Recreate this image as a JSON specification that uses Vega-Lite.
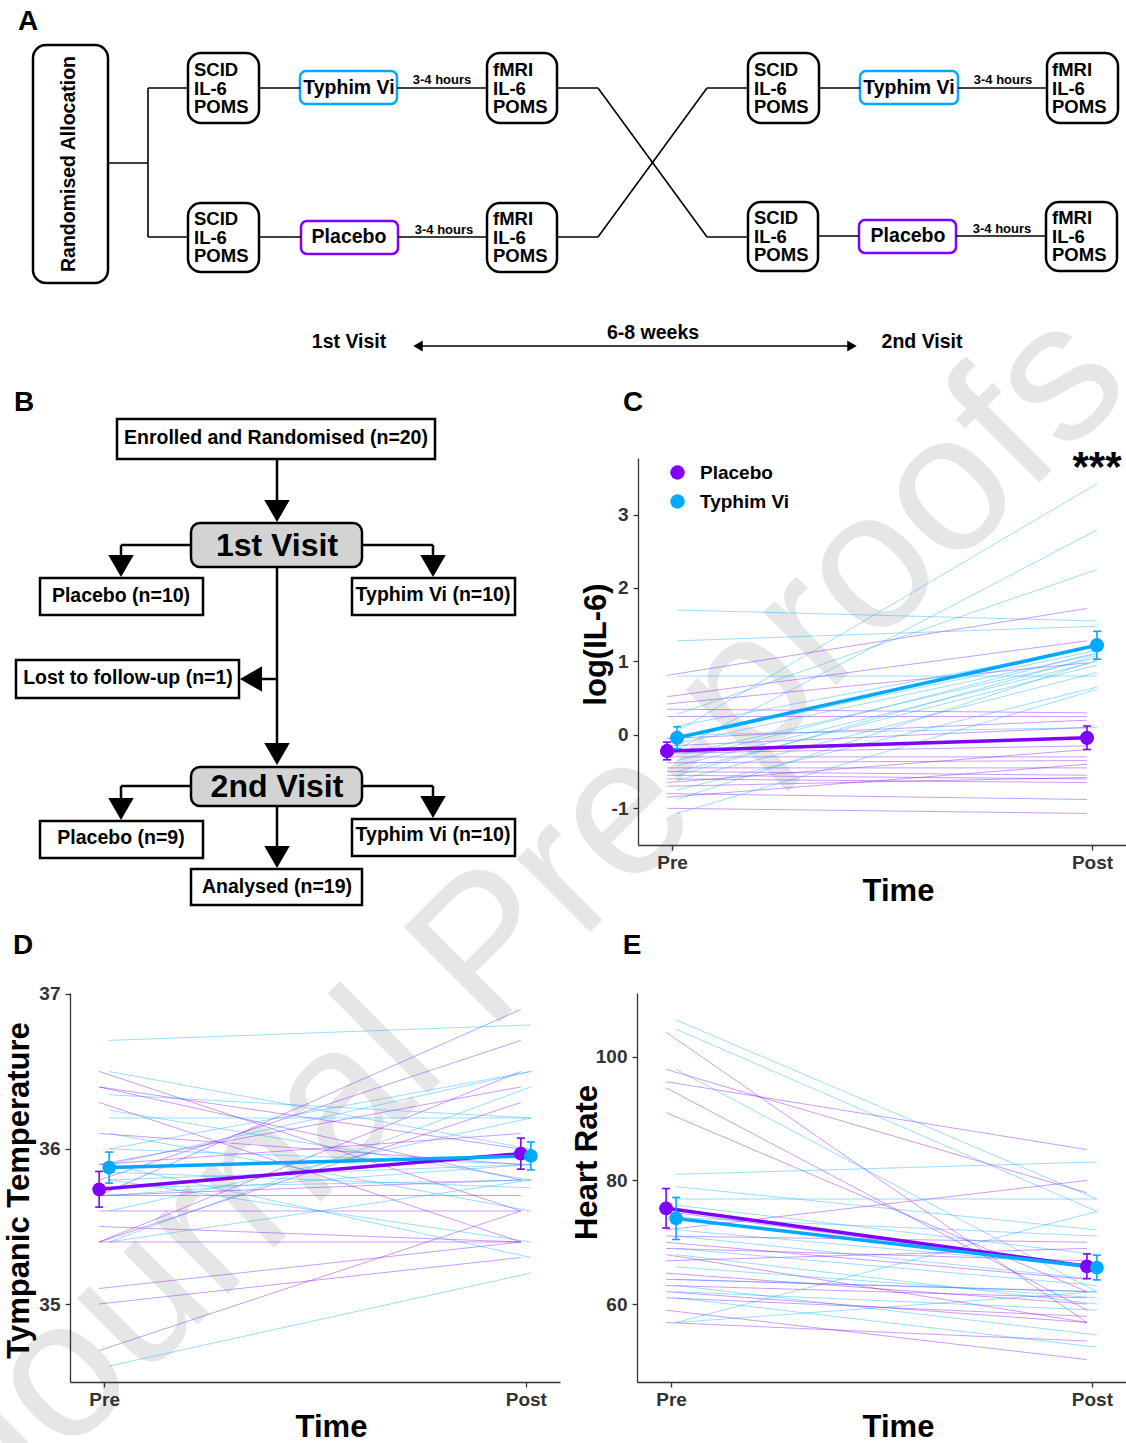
{
  "$schema": "https://vega.github.io/schema/vega-lite/v6.json",
  "width": 1126,
  "height": 1443,
  "padding": 0,
  "background": "white",
  "autosize": {"type": "none"},
  "config": {
    "font": "Liberation Sans",
    "view": {"stroke": null},
    "axis": {"zindex": 1, "domainColor": "#333333", "domainWidth": 1.3, "tickColor": "#333333", "tickWidth": 1.3, "tickSize": 5, "labelFont": "Liberation Sans", "labelFontWeight": "bold", "labelFontSize": 19, "labelColor": "#333333", "titleFont": "Liberation Sans", "titleFontWeight": "bold", "titleFontSize": 31, "titleColor": "black", "grid": false},
    "axisX": {"labelPadding": 3, "labelAngle": 0},
    "axisY": {"labelPadding": 5}
  },
  "datasets": {
    "abox": [
      {"x": 33, "x2": 108, "y": 45, "y2": 283},
      {"x": 188, "x2": 259, "y": 53, "y2": 123},
      {"x": 487, "x2": 557, "y": 53, "y2": 123},
      {"x": 188, "x2": 259, "y": 203, "y2": 272},
      {"x": 487, "x2": 557, "y": 203, "y2": 272},
      {"x": 748, "x2": 819, "y": 53, "y2": 123},
      {"x": 1047, "x2": 1118, "y": 53, "y2": 123},
      {"x": 748, "x2": 818, "y": 202, "y2": 271},
      {"x": 1046, "x2": 1117, "y": 202, "y2": 271}
    ],
    "tbox": [
      {"x": 300, "x2": 397, "y": 71, "y2": 104, "arm": "Typhim Vi"},
      {"x": 301, "x2": 398, "y": 221, "y2": 254, "arm": "Placebo"},
      {"x": 860, "x2": 958, "y": 71, "y2": 104, "arm": "Typhim Vi"},
      {"x": 859, "x2": 956, "y": 220, "y2": 253, "arm": "Placebo"}
    ],
    "sbox": [
      {"x": 117, "x2": 435, "y": 419, "y2": 459},
      {"x": 40, "x2": 203, "y": 578, "y2": 615},
      {"x": 352, "x2": 515, "y": 578, "y2": 615},
      {"x": 16, "x2": 239, "y": 660, "y2": 698},
      {"x": 40, "x2": 203, "y": 821, "y2": 858},
      {"x": 352, "x2": 515, "y": 819, "y2": 856},
      {"x": 191, "x2": 362, "y": 869, "y2": 905}
    ],
    "vbox": [
      {"x": 191, "x2": 362, "y": 523, "y2": 567},
      {"x": 191, "x2": 362, "y": 767, "y2": 806}
    ],
    "thin": [
      {"x": 108, "y": 163, "x2": 148, "y2": 163},
      {"x": 148, "y": 88, "x2": 148, "y2": 237},
      {"x": 148, "y": 88, "x2": 188, "y2": 88},
      {"x": 148, "y": 237, "x2": 188, "y2": 237},
      {"x": 259, "y": 88, "x2": 300, "y2": 88},
      {"x": 397, "y": 88, "x2": 487, "y2": 88},
      {"x": 259, "y": 237, "x2": 301, "y2": 237},
      {"x": 398, "y": 237, "x2": 487, "y2": 237},
      {"x": 557, "y": 88, "x2": 598, "y2": 88},
      {"x": 598, "y": 88, "x2": 707, "y2": 237},
      {"x": 707, "y": 237, "x2": 748, "y2": 237},
      {"x": 557, "y": 237, "x2": 598, "y2": 237},
      {"x": 598, "y": 237, "x2": 707, "y2": 88},
      {"x": 707, "y": 88, "x2": 748, "y2": 88},
      {"x": 819, "y": 88, "x2": 860, "y2": 88},
      {"x": 958, "y": 88, "x2": 1047, "y2": 88},
      {"x": 818, "y": 236, "x2": 859, "y2": 236},
      {"x": 956, "y": 236, "x2": 1046, "y2": 236},
      {"x": 418, "y": 346, "x2": 852, "y2": 346}
    ],
    "thick": [
      {"x": 277, "y": 459, "x2": 277, "y2": 505},
      {"x": 277, "y": 567, "x2": 277, "y2": 748},
      {"x": 191, "y": 545, "x2": 121, "y2": 545},
      {"x": 121, "y": 545, "x2": 121, "y2": 560},
      {"x": 362, "y": 545, "x2": 433, "y2": 545},
      {"x": 433, "y": 545, "x2": 433, "y2": 560},
      {"x": 277, "y": 679, "x2": 255, "y2": 679},
      {"x": 191, "y": 786, "x2": 121, "y2": 786},
      {"x": 121, "y": 786, "x2": 121, "y2": 803},
      {"x": 362, "y": 786, "x2": 433, "y2": 786},
      {"x": 433, "y": 786, "x2": 433, "y2": 801},
      {"x": 277, "y": 806, "x2": 277, "y2": 850}
    ],
    "bigarrows": [
      {"x": 277, "y": 511, "dir": "down"},
      {"x": 277, "y": 754, "dir": "down"},
      {"x": 121, "y": 566, "dir": "down"},
      {"x": 433, "y": 566, "dir": "down"},
      {"x": 251, "y": 679, "dir": "left"},
      {"x": 121, "y": 809, "dir": "down"},
      {"x": 433, "y": 807, "dir": "down"},
      {"x": 277, "y": 857, "dir": "down"}
    ],
    "smallarrows": [
      {"x": 418, "y": 346, "dir": "left"},
      {"x": 852, "y": 346, "dir": "right"}
    ],
    "letters": [
      {"t": "A", "x": 28, "y": 22},
      {"t": "B", "x": 24, "y": 403},
      {"t": "C", "x": 633, "y": 403},
      {"t": "D", "x": 23, "y": 946},
      {"t": "E", "x": 632, "y": 946}
    ],
    "nodelines": [
      {"t": ["SCID", "IL-6", "POMS"], "x": 194, "y": 70},
      {"t": ["fMRI", "IL-6", "POMS"], "x": 493, "y": 70},
      {"t": ["SCID", "IL-6", "POMS"], "x": 194, "y": 219},
      {"t": ["fMRI", "IL-6", "POMS"], "x": 493, "y": 219},
      {"t": ["SCID", "IL-6", "POMS"], "x": 754, "y": 70},
      {"t": ["fMRI", "IL-6", "POMS"], "x": 1052, "y": 70},
      {"t": ["SCID", "IL-6", "POMS"], "x": 754, "y": 218},
      {"t": ["fMRI", "IL-6", "POMS"], "x": 1052, "y": 218}
    ],
    "centertexts": [
      {"t": "Typhim Vi", "x": 349, "y": 88},
      {"t": "Placebo", "x": 349, "y": 237},
      {"t": "Typhim Vi", "x": 909, "y": 88},
      {"t": "Placebo", "x": 908, "y": 236},
      {"t": "1st Visit", "x": 349, "y": 342},
      {"t": "6-8 weeks", "x": 653, "y": 333},
      {"t": "2nd Visit", "x": 922, "y": 342},
      {"t": "Enrolled and Randomised (n=20)", "x": 276, "y": 438},
      {"t": "Placebo (n=10)", "x": 121, "y": 596},
      {"t": "Typhim Vi (n=10)", "x": 433, "y": 595},
      {"t": "Lost to follow-up (n=1)", "x": 128, "y": 678},
      {"t": "Placebo (n=9)", "x": 121, "y": 838},
      {"t": "Typhim Vi (n=10)", "x": 433, "y": 835},
      {"t": "Analysed (n=19)", "x": 277, "y": 887}
    ],
    "smalltexts": [
      {"t": "3-4 hours", "x": 442, "y": 80},
      {"t": "3-4 hours", "x": 444, "y": 230},
      {"t": "3-4 hours", "x": 1003, "y": 80},
      {"t": "3-4 hours", "x": 1002, "y": 229}
    ],
    "visittexts": [
      {"t": "1st Visit", "x": 277, "y": 546},
      {"t": "2nd Visit", "x": 277, "y": 787}
    ],
    "il6": [
      {"id": 1, "group": "Placebo", "Pre": 0.81, "Post": 1.72},
      {"id": 2, "group": "Placebo", "Pre": 0.52, "Post": 1.28},
      {"id": 3, "group": "Placebo", "Pre": 0.42, "Post": 0.98},
      {"id": 4, "group": "Placebo", "Pre": 0.35, "Post": 0.30},
      {"id": 5, "group": "Placebo", "Pre": 0.25, "Post": 0.25},
      {"id": 6, "group": "Placebo", "Pre": -0.05, "Post": 0.20},
      {"id": 7, "group": "Placebo", "Pre": -0.15, "Post": 0.10},
      {"id": 8, "group": "Placebo", "Pre": -0.25, "Post": -0.15},
      {"id": 9, "group": "Placebo", "Pre": -0.30, "Post": -0.30},
      {"id": 10, "group": "Placebo", "Pre": -0.38, "Post": -0.35},
      {"id": 11, "group": "Placebo", "Pre": -0.45, "Post": -0.45},
      {"id": 12, "group": "Placebo", "Pre": -0.50, "Post": -0.55},
      {"id": 13, "group": "Placebo", "Pre": -0.55, "Post": -0.60},
      {"id": 14, "group": "Placebo", "Pre": -0.60, "Post": -0.65},
      {"id": 15, "group": "Placebo", "Pre": -0.65, "Post": -0.20},
      {"id": 16, "group": "Placebo", "Pre": -0.70, "Post": -0.58},
      {"id": 17, "group": "Placebo", "Pre": -0.80, "Post": -0.88},
      {"id": 18, "group": "Placebo", "Pre": -0.85, "Post": -0.40},
      {"id": 19, "group": "Placebo", "Pre": -1.00, "Post": -1.07},
      {"id": 1, "group": "Typhim Vi", "Pre": 1.70, "Post": 1.55},
      {"id": 2, "group": "Typhim Vi", "Pre": 1.28, "Post": 1.48},
      {"id": 3, "group": "Typhim Vi", "Pre": 0.28, "Post": 2.25},
      {"id": 4, "group": "Typhim Vi", "Pre": 0.05, "Post": 3.42},
      {"id": 5, "group": "Typhim Vi", "Pre": -0.20, "Post": 2.79},
      {"id": 6, "group": "Typhim Vi", "Pre": 0.80, "Post": 0.80},
      {"id": 7, "group": "Typhim Vi", "Pre": 0.12, "Post": 1.20},
      {"id": 8, "group": "Typhim Vi", "Pre": -0.05, "Post": 1.15},
      {"id": 9, "group": "Typhim Vi", "Pre": -0.12, "Post": 1.10},
      {"id": 10, "group": "Typhim Vi", "Pre": -0.28, "Post": 1.05},
      {"id": 11, "group": "Typhim Vi", "Pre": -0.35, "Post": 1.12},
      {"id": 12, "group": "Typhim Vi", "Pre": -0.42, "Post": 1.00},
      {"id": 13, "group": "Typhim Vi", "Pre": -0.50, "Post": 0.95},
      {"id": 14, "group": "Typhim Vi", "Pre": -0.55, "Post": 1.08},
      {"id": 15, "group": "Typhim Vi", "Pre": -0.62, "Post": 0.85},
      {"id": 16, "group": "Typhim Vi", "Pre": -0.75, "Post": 0.65},
      {"id": 17, "group": "Typhim Vi", "Pre": -0.88, "Post": 1.02},
      {"id": 18, "group": "Typhim Vi", "Pre": -1.07, "Post": 0.62},
      {"id": 19, "group": "Typhim Vi", "Pre": 0.00, "Post": 0.10}
    ],
    "il6_sum": [
      {"group": "Placebo", "time": "Pre", "mean": -0.22, "lo": -0.34, "hi": -0.10},
      {"group": "Placebo", "time": "Post", "mean": -0.04, "lo": -0.20, "hi": 0.12},
      {"group": "Typhim Vi", "time": "Pre", "mean": -0.04, "lo": -0.19, "hi": 0.11},
      {"group": "Typhim Vi", "time": "Post", "mean": 1.22, "lo": 1.03, "hi": 1.41}
    ],
    "temp": [
      {"id": 1, "group": "Placebo", "Pre": 36.50, "Post": 35.60},
      {"id": 2, "group": "Placebo", "Pre": 36.40, "Post": 35.80},
      {"id": 3, "group": "Placebo", "Pre": 35.70, "Post": 36.90},
      {"id": 4, "group": "Placebo", "Pre": 35.10, "Post": 35.40},
      {"id": 5, "group": "Placebo", "Pre": 35.00, "Post": 35.30},
      {"id": 6, "group": "Placebo", "Pre": 34.70, "Post": 35.60},
      {"id": 7, "group": "Placebo", "Pre": 35.40, "Post": 36.50},
      {"id": 8, "group": "Placebo", "Pre": 35.50, "Post": 35.40},
      {"id": 9, "group": "Placebo", "Pre": 35.70, "Post": 35.70},
      {"id": 10, "group": "Placebo", "Pre": 35.90, "Post": 36.10},
      {"id": 11, "group": "Placebo", "Pre": 35.40, "Post": 36.30},
      {"id": 12, "group": "Placebo", "Pre": 35.70, "Post": 35.80},
      {"id": 13, "group": "Placebo", "Pre": 36.30, "Post": 35.40},
      {"id": 14, "group": "Placebo", "Pre": 36.40, "Post": 36.00},
      {"id": 15, "group": "Placebo", "Pre": 35.80, "Post": 36.70},
      {"id": 16, "group": "Placebo", "Pre": 35.60, "Post": 35.60},
      {"id": 17, "group": "Placebo", "Pre": 35.90, "Post": 36.40},
      {"id": 18, "group": "Placebo", "Pre": 36.10, "Post": 35.90},
      {"id": 19, "group": "Placebo", "Pre": 35.40, "Post": 35.40},
      {"id": 1, "group": "Typhim Vi", "Pre": 36.70, "Post": 36.80},
      {"id": 2, "group": "Typhim Vi", "Pre": 36.50, "Post": 36.00},
      {"id": 3, "group": "Typhim Vi", "Pre": 36.35, "Post": 36.20},
      {"id": 4, "group": "Typhim Vi", "Pre": 36.25, "Post": 35.80},
      {"id": 5, "group": "Typhim Vi", "Pre": 36.00, "Post": 35.90},
      {"id": 6, "group": "Typhim Vi", "Pre": 35.90, "Post": 36.50},
      {"id": 7, "group": "Typhim Vi", "Pre": 35.80, "Post": 35.40},
      {"id": 8, "group": "Typhim Vi", "Pre": 35.75, "Post": 35.80},
      {"id": 9, "group": "Typhim Vi", "Pre": 35.60, "Post": 36.20},
      {"id": 10, "group": "Typhim Vi", "Pre": 35.40, "Post": 36.40},
      {"id": 11, "group": "Typhim Vi", "Pre": 35.40, "Post": 35.80},
      {"id": 12, "group": "Typhim Vi", "Pre": 35.70, "Post": 35.90},
      {"id": 13, "group": "Typhim Vi", "Pre": 34.60, "Post": 35.20},
      {"id": 14, "group": "Typhim Vi", "Pre": 35.80, "Post": 35.90},
      {"id": 15, "group": "Typhim Vi", "Pre": 36.10, "Post": 35.60},
      {"id": 16, "group": "Typhim Vi", "Pre": 36.20, "Post": 36.20},
      {"id": 17, "group": "Typhim Vi", "Pre": 35.90, "Post": 35.30},
      {"id": 18, "group": "Typhim Vi", "Pre": 36.00, "Post": 36.50},
      {"id": 19, "group": "Typhim Vi", "Pre": 35.85, "Post": 35.75}
    ],
    "temp_sum": [
      {"group": "Placebo", "time": "Pre", "mean": 35.74, "lo": 35.625, "hi": 35.855},
      {"group": "Placebo", "time": "Post", "mean": 35.97, "lo": 35.87, "hi": 36.07},
      {"group": "Typhim Vi", "time": "Pre", "mean": 35.88, "lo": 35.78, "hi": 35.98},
      {"group": "Typhim Vi", "time": "Post", "mean": 35.955, "lo": 35.865, "hi": 36.045}
    ],
    "hr": [
      {"id": 1, "group": "Placebo", "Pre": 104, "Post": 57},
      {"id": 2, "group": "Placebo", "Pre": 98, "Post": 78},
      {"id": 3, "group": "Placebo", "Pre": 96, "Post": 85},
      {"id": 4, "group": "Placebo", "Pre": 95, "Post": 59},
      {"id": 5, "group": "Placebo", "Pre": 91, "Post": 62},
      {"id": 6, "group": "Placebo", "Pre": 75, "Post": 66},
      {"id": 7, "group": "Placebo", "Pre": 72, "Post": 80},
      {"id": 8, "group": "Placebo", "Pre": 71, "Post": 70},
      {"id": 9, "group": "Placebo", "Pre": 70, "Post": 64},
      {"id": 10, "group": "Placebo", "Pre": 69, "Post": 67},
      {"id": 11, "group": "Placebo", "Pre": 68, "Post": 57},
      {"id": 12, "group": "Placebo", "Pre": 67, "Post": 69},
      {"id": 13, "group": "Placebo", "Pre": 65, "Post": 60},
      {"id": 14, "group": "Placebo", "Pre": 64, "Post": 62},
      {"id": 15, "group": "Placebo", "Pre": 63, "Post": 61},
      {"id": 16, "group": "Placebo", "Pre": 62, "Post": 57},
      {"id": 17, "group": "Placebo", "Pre": 61, "Post": 58},
      {"id": 18, "group": "Placebo", "Pre": 59, "Post": 51},
      {"id": 19, "group": "Placebo", "Pre": 57, "Post": 54},
      {"id": 1, "group": "Typhim Vi", "Pre": 106, "Post": 77},
      {"id": 2, "group": "Typhim Vi", "Pre": 104.5, "Post": 75},
      {"id": 3, "group": "Typhim Vi", "Pre": 98, "Post": 62},
      {"id": 4, "group": "Typhim Vi", "Pre": 81, "Post": 83},
      {"id": 5, "group": "Typhim Vi", "Pre": 79, "Post": 72},
      {"id": 6, "group": "Typhim Vi", "Pre": 77, "Post": 77},
      {"id": 7, "group": "Typhim Vi", "Pre": 76, "Post": 68},
      {"id": 8, "group": "Typhim Vi", "Pre": 74, "Post": 71},
      {"id": 9, "group": "Typhim Vi", "Pre": 72, "Post": 66},
      {"id": 10, "group": "Typhim Vi", "Pre": 71, "Post": 64},
      {"id": 11, "group": "Typhim Vi", "Pre": 69, "Post": 63},
      {"id": 12, "group": "Typhim Vi", "Pre": 68, "Post": 60},
      {"id": 13, "group": "Typhim Vi", "Pre": 66, "Post": 61},
      {"id": 14, "group": "Typhim Vi", "Pre": 64, "Post": 62},
      {"id": 15, "group": "Typhim Vi", "Pre": 63, "Post": 55},
      {"id": 16, "group": "Typhim Vi", "Pre": 62, "Post": 59},
      {"id": 17, "group": "Typhim Vi", "Pre": 57, "Post": 75},
      {"id": 18, "group": "Typhim Vi", "Pre": 57, "Post": 62},
      {"id": 19, "group": "Typhim Vi", "Pre": 61, "Post": 53}
    ],
    "hr_sum": [
      {"group": "Placebo", "time": "Pre", "mean": 75.5, "lo": 72.3, "hi": 78.7},
      {"group": "Placebo", "time": "Post", "mean": 66.1, "lo": 64.1, "hi": 68.1},
      {"group": "Typhim Vi", "time": "Pre", "mean": 73.85, "lo": 70.45, "hi": 77.25},
      {"group": "Typhim Vi", "time": "Post", "mean": 65.9, "lo": 63.9, "hi": 67.9}
    ]
  },
  "resolve": {"scale": {"x": "independent", "y": "independent", "color": "independent"}, "legend": {"color": "independent"}},
  "layer": [
    {
      "encoding": {
        "x": {"field": "x", "type": "quantitative", "scale": {"domain": [0, 1126], "nice": false, "zero": false}, "axis": null},
        "y": {"field": "y", "type": "quantitative", "scale": {"domain": [0, 1443], "nice": false, "zero": false, "reverse": true}, "axis": null}
      },
      "layer": [
        {
          "data": {"values": [{"t": "Journal Pre-proofs", "x": 565, "y": 957}]},
          "mark": {"type": "text", "fontSize": 196, "angle": 315, "align": "center", "baseline": "alphabetic", "color": "#e6e6e6", "clip": true},
          "encoding": {"text": {"field": "t"}}
        },
        {
          "data": {"name": "abox"},
          "mark": {"type": "rect", "filled": false, "stroke": "black", "strokeWidth": 2.5, "cornerRadius": 13},
          "encoding": {"x2": {"field": "x2"}, "y2": {"field": "y2"}}
        },
        {
          "data": {"name": "tbox"},
          "mark": {"type": "rect", "filled": false, "strokeWidth": 2.5, "cornerRadius": 6},
          "encoding": {"x2": {"field": "x2"}, "y2": {"field": "y2"}, "stroke": {"field": "arm", "type": "nominal", "scale": {"domain": ["Typhim Vi", "Placebo"], "range": ["#00A9FF", "#8000FF"]}, "legend": null}}
        },
        {
          "data": {"name": "sbox"},
          "mark": {"type": "rect", "filled": false, "stroke": "black", "strokeWidth": 2.5},
          "encoding": {"x2": {"field": "x2"}, "y2": {"field": "y2"}}
        },
        {
          "data": {"name": "vbox"},
          "mark": {"type": "rect", "fill": "#d3d3d3", "stroke": "black", "strokeWidth": 2.5, "cornerRadius": 9},
          "encoding": {"x2": {"field": "x2"}, "y2": {"field": "y2"}}
        },
        {
          "data": {"name": "thin"},
          "mark": {"type": "rule", "color": "black", "strokeWidth": 1.6},
          "encoding": {"x2": {"field": "x2"}, "y2": {"field": "y2"}}
        },
        {
          "data": {"name": "thick"},
          "mark": {"type": "rule", "color": "black", "strokeWidth": 2.5},
          "encoding": {"x2": {"field": "x2"}, "y2": {"field": "y2"}}
        },
        {
          "data": {"name": "bigarrows"},
          "mark": {"type": "point", "filled": true, "color": "black", "opacity": 1, "size": 650},
          "encoding": {"shape": {"field": "dir", "type": "nominal", "scale": {"domain": ["down", "left", "right"], "range": ["triangle-down", "triangle-left", "triangle-right"]}, "legend": null}}
        },
        {
          "data": {"name": "smallarrows"},
          "mark": {"type": "point", "filled": true, "color": "black", "opacity": 1, "size": 120},
          "encoding": {"shape": {"field": "dir", "type": "nominal", "scale": {"domain": ["down", "left", "right"], "range": ["triangle-down", "triangle-left", "triangle-right"]}, "legend": null}}
        },
        {
          "data": {"name": "letters"},
          "mark": {"type": "text", "fontSize": 28, "fontWeight": "bold", "align": "center", "baseline": "middle", "color": "black"},
          "encoding": {"text": {"field": "t"}}
        },
        {
          "data": {"name": "nodelines"},
          "mark": {"type": "text", "fontSize": 18.5, "fontWeight": "bold", "align": "left", "baseline": "middle", "lineHeight": 18.5, "color": "black"},
          "encoding": {"text": {"field": "t"}}
        },
        {
          "data": {"name": "centertexts"},
          "mark": {"type": "text", "fontSize": 19.5, "fontWeight": "bold", "align": "center", "baseline": "middle", "color": "black"},
          "encoding": {"text": {"field": "t"}}
        },
        {
          "data": {"name": "smalltexts"},
          "mark": {"type": "text", "fontSize": 13, "fontWeight": "bold", "align": "center", "baseline": "middle", "color": "black"},
          "encoding": {"text": {"field": "t"}}
        },
        {
          "data": {"name": "visittexts"},
          "mark": {"type": "text", "fontSize": 32, "fontWeight": "bold", "align": "center", "baseline": "middle", "color": "black"},
          "encoding": {"text": {"field": "t"}}
        },
        {
          "data": {"values": [{"t": "Randomised Allocation", "x": 69, "y": 164}]},
          "mark": {"type": "text", "fontSize": 19.5, "fontWeight": "bold", "align": "center", "baseline": "middle", "angle": 270, "color": "black"},
          "encoding": {"text": {"field": "t"}}
        },
        {
          "data": {"values": [{"t": "***", "x": 1097, "y": 481}]},
          "mark": {"type": "text", "fontSize": 42, "fontWeight": "bold", "align": "center", "baseline": "alphabetic", "color": "black"},
          "encoding": {"text": {"field": "t"}}
        }
      ]
    },
    {
      "encoding": {
        "x": {"field": "time", "type": "nominal", "scale": {"type": "point", "domain": ["Pre", "Post"], "range": [638, 1126], "padding": 0.081}, "axis": {"orient": "bottom", "offset": -598, "zindex": 1, "title": "Time", "titleX": 898, "titleY": 46, "titleBaseline": "middle"}},
        "xOffset": {"field": "group", "type": "nominal", "scale": {"type": "point", "domain": ["Placebo", "Typhim Vi"], "range": [-5, 5], "padding": 0}},
        "color": {"field": "group", "type": "nominal", "scale": {"domain": ["Placebo", "Typhim Vi"], "range": ["#8000FF", "#00A9FF"]}}
      },
      "layer": [
        {
          "data": {"name": "il6_sum"},
          "mark": {"type": "circle", "size": 190, "opacity": 1},
          "encoding": {
            "y": {"field": "mean", "type": "quantitative", "scale": {"domain": [-1.5, 3.77], "range": [845, 458], "nice": false, "zero": false}, "axis": {"orient": "left", "offset": -638, "zindex": 1, "title": "log(IL-6)", "values": [-1, 0, 1, 2, 3], "labelExpr": "'' + datum.value", "titleX": -42, "titleY": 644, "titleBaseline": "middle"}},
            "color": {"field": "group", "type": "nominal", "scale": {"domain": ["Placebo", "Typhim Vi"], "range": ["#8000FF", "#00A9FF"]},
              "legend": {"title": null, "orient": "none", "legendX": 668, "legendY": 463, "symbolType": "circle", "symbolSize": 210, "symbolStrokeWidth": 0, "symbolOpacity": 1, "labelFontSize": 19, "labelFontWeight": "bold", "labelColor": "black", "labelOffset": 13, "rowPadding": 9}}
          }
        },
        {
          "data": {"name": "il6"},
          "transform": [{"fold": ["Pre", "Post"], "as": ["time", "value"]}],
          "mark": {"type": "line", "strokeWidth": 0.8, "strokeOpacity": 0.5},
          "encoding": {
            "y": {"field": "value", "type": "quantitative"},
            "detail": {"field": "id", "type": "nominal"}
          }
        },
        {"data": {"name": "il6_sum"}, "mark": {"type": "line", "strokeWidth": 3.5}, "encoding": {"y": {"field": "mean", "type": "quantitative"}}},
        {"data": {"name": "il6_sum"}, "mark": {"type": "rule", "strokeWidth": 1.6}, "encoding": {"y": {"field": "lo", "type": "quantitative"}, "y2": {"field": "hi"}}},
        {"data": {"name": "il6_sum"}, "mark": {"type": "tick", "size": 8, "thickness": 1.6, "opacity": 1}, "encoding": {"y": {"field": "lo", "type": "quantitative"}}},
        {"data": {"name": "il6_sum"}, "mark": {"type": "tick", "size": 8, "thickness": 1.6, "opacity": 1}, "encoding": {"y": {"field": "hi", "type": "quantitative"}}},
        {"data": {"name": "il6_sum"}, "mark": {"type": "circle", "size": 190, "opacity": 1}, "encoding": {"y": {"field": "mean", "type": "quantitative"}}}
      ]
    },
    {
      "encoding": {
        "x": {"field": "time", "type": "nominal", "scale": {"type": "point", "domain": ["Pre", "Post"], "range": [70, 560], "padding": 0.081}, "axis": {"orient": "bottom", "offset": -61, "zindex": 1, "title": "Time", "titleX": 331, "titleY": 45, "titleBaseline": "middle"}},
        "xOffset": {"field": "group", "type": "nominal", "scale": {"type": "point", "domain": ["Placebo", "Typhim Vi"], "range": [-5, 5], "padding": 0}},
        "color": {"field": "group", "type": "nominal", "scale": {"domain": ["Placebo", "Typhim Vi"], "range": ["#8000FF", "#00A9FF"]}, "legend": null}
      },
      "layer": [
        {
          "data": {"name": "temp"},
          "transform": [{"fold": ["Pre", "Post"], "as": ["time", "value"]}],
          "mark": {"type": "line", "strokeWidth": 0.8, "strokeOpacity": 0.5},
          "encoding": {
            "y": {"field": "value", "type": "quantitative", "scale": {"domain": [34.497, 37.006], "range": [1382, 993], "nice": false, "zero": false}, "axis": {"orient": "left", "offset": -70, "zindex": 1, "title": "Tympanic Temperature", "values": [35, 36, 37], "labelExpr": "'' + datum.value", "titleX": -51, "titleY": 1190, "titleBaseline": "middle"}},
            "detail": {"field": "id", "type": "nominal"}
          }
        },
        {"data": {"name": "temp_sum"}, "mark": {"type": "line", "strokeWidth": 3.5}, "encoding": {"y": {"field": "mean", "type": "quantitative"}}},
        {"data": {"name": "temp_sum"}, "mark": {"type": "rule", "strokeWidth": 1.6}, "encoding": {"y": {"field": "lo", "type": "quantitative"}, "y2": {"field": "hi"}}},
        {"data": {"name": "temp_sum"}, "mark": {"type": "tick", "size": 8, "thickness": 1.6, "opacity": 1}, "encoding": {"y": {"field": "lo", "type": "quantitative"}}},
        {"data": {"name": "temp_sum"}, "mark": {"type": "tick", "size": 8, "thickness": 1.6, "opacity": 1}, "encoding": {"y": {"field": "hi", "type": "quantitative"}}},
        {"data": {"name": "temp_sum"}, "mark": {"type": "circle", "size": 190, "opacity": 1}, "encoding": {"y": {"field": "mean", "type": "quantitative"}}}
      ]
    },
    {
      "encoding": {
        "x": {"field": "time", "type": "nominal", "scale": {"type": "point", "domain": ["Pre", "Post"], "range": [637, 1126], "padding": 0.081}, "axis": {"orient": "bottom", "offset": -61, "zindex": 1, "title": "Time", "titleX": 898, "titleY": 45, "titleBaseline": "middle"}},
        "xOffset": {"field": "group", "type": "nominal", "scale": {"type": "point", "domain": ["Placebo", "Typhim Vi"], "range": [-5, 5], "padding": 0}},
        "color": {"field": "group", "type": "nominal", "scale": {"domain": ["Placebo", "Typhim Vi"], "range": ["#8000FF", "#00A9FF"]}, "legend": null}
      },
      "layer": [
        {
          "data": {"name": "hr"},
          "transform": [{"fold": ["Pre", "Post"], "as": ["time", "value"]}],
          "mark": {"type": "line", "strokeWidth": 0.8, "strokeOpacity": 0.5},
          "encoding": {
            "y": {"field": "value", "type": "quantitative", "scale": {"domain": [47.37, 110.36], "range": [1382, 993], "nice": false, "zero": false}, "axis": {"orient": "left", "offset": -637, "zindex": 1, "title": "Heart Rate", "values": [60, 80, 100], "labelExpr": "'' + datum.value", "titleX": -50, "titleY": 1162, "titleBaseline": "middle"}},
            "detail": {"field": "id", "type": "nominal"}
          }
        },
        {"data": {"name": "hr_sum"}, "mark": {"type": "line", "strokeWidth": 3.5}, "encoding": {"y": {"field": "mean", "type": "quantitative"}}},
        {"data": {"name": "hr_sum"}, "mark": {"type": "rule", "strokeWidth": 1.6}, "encoding": {"y": {"field": "lo", "type": "quantitative"}, "y2": {"field": "hi"}}},
        {"data": {"name": "hr_sum"}, "mark": {"type": "tick", "size": 8, "thickness": 1.6, "opacity": 1}, "encoding": {"y": {"field": "lo", "type": "quantitative"}}},
        {"data": {"name": "hr_sum"}, "mark": {"type": "tick", "size": 8, "thickness": 1.6, "opacity": 1}, "encoding": {"y": {"field": "hi", "type": "quantitative"}}},
        {"data": {"name": "hr_sum"}, "mark": {"type": "circle", "size": 190, "opacity": 1}, "encoding": {"y": {"field": "mean", "type": "quantitative"}}}
      ]
    }
  ]
}
